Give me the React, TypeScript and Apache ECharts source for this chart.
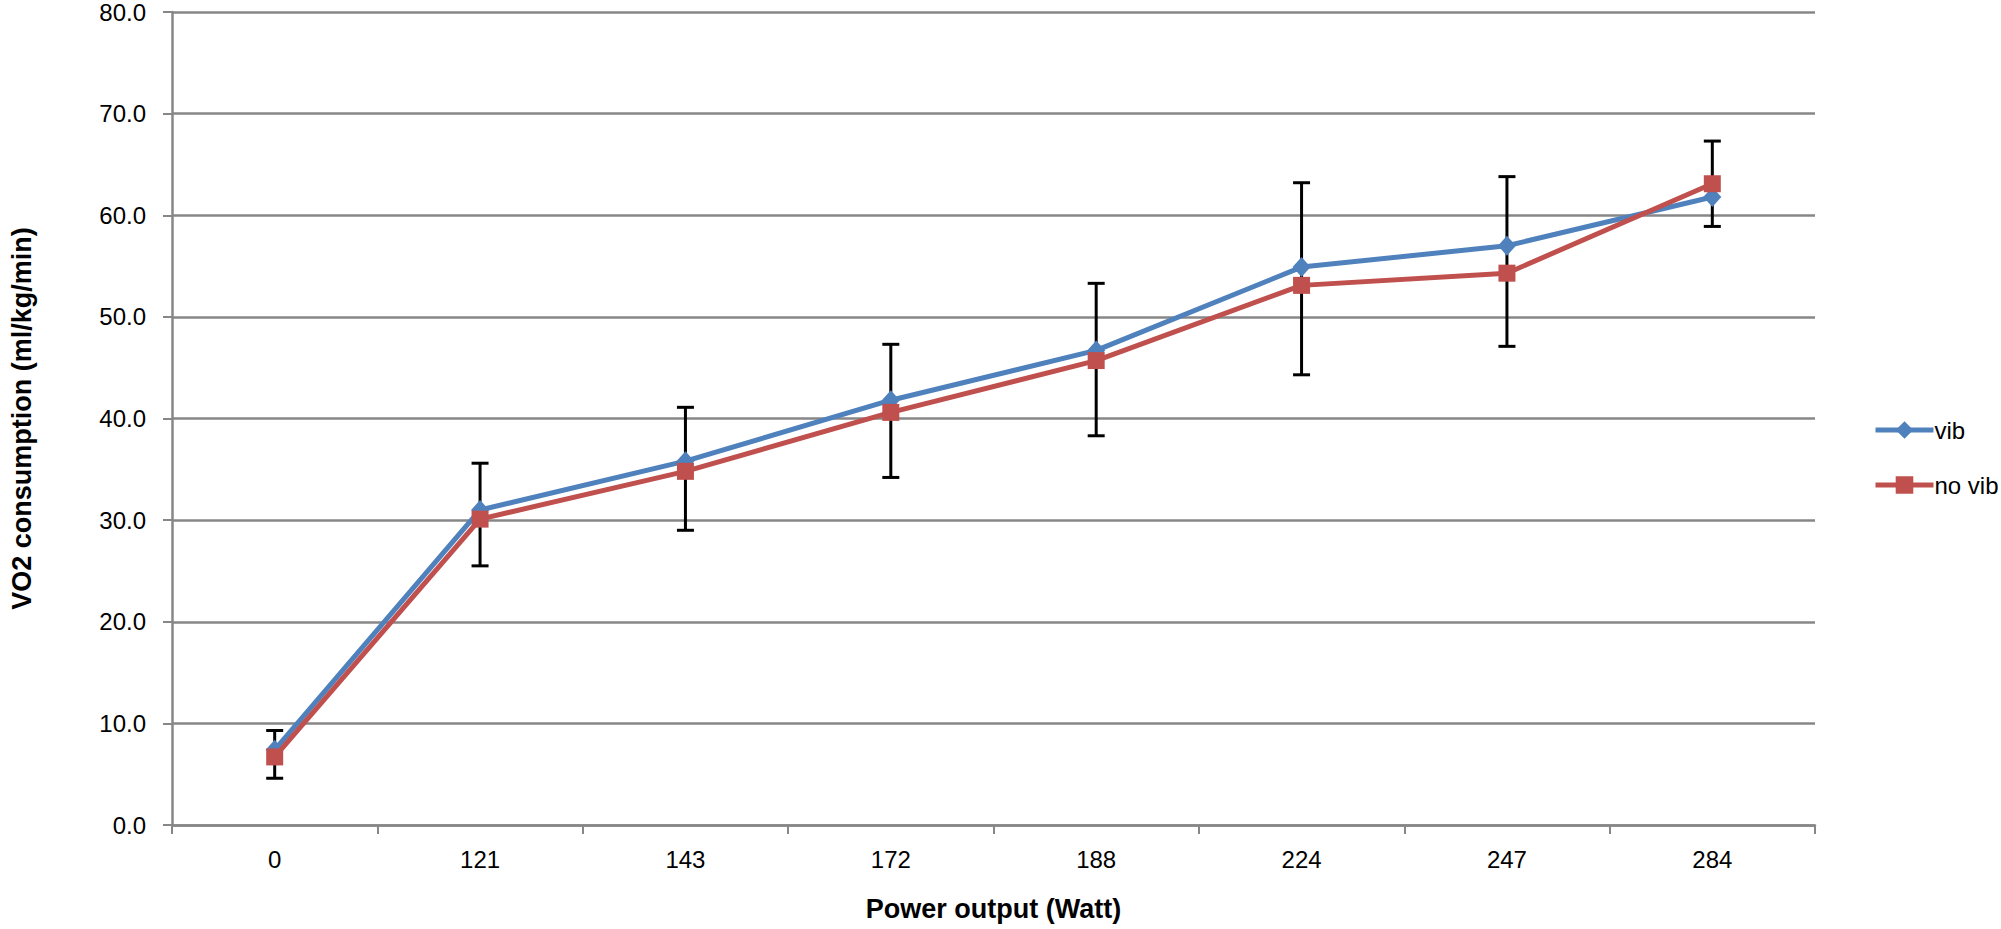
import React, { useEffect, useRef } from "react";
import * as echarts from "echarts";

const categories = ["0", "121", "143", "172", "188", "224", "247", "284"];
const vib = [7.4, 31.0, 35.8, 41.8, 46.7, 54.9, 57.0, 61.8];
const noVib = [6.7, 30.1, 34.8, 40.6, 45.7, 53.1, 54.3, 63.1];
const errLow = [4.6, 25.5, 29.0, 34.2, 38.3, 44.3, 47.1, 58.9];
const errHigh = [9.3, 35.6, 41.1, 47.3, 53.3, 63.2, 63.8, 67.3];
const yTicks = { min: 0, max: 80, interval: 10 };

const FONT = "'Liberation Sans', Arial, sans-serif";
const GRID = "#878787";

export default function App() {
  const ref = useRef<HTMLDivElement>(null);
  useEffect(() => {
    document.body.style.margin = "0";
    const chart = echarts.init(ref.current!, null, { renderer: "svg" });
    const errData = categories.map((_, i) => [i, errLow[i], errHigh[i]]);
    chart.setOption({
      animation: false,
      backgroundColor: "#ffffff",
      textStyle: { fontFamily: FONT },
      grid: { left: 166, right: 186, top: 9, bottom: 104 },
      legend: {
        orient: "vertical",
        left: 1868,
        top: 413,
        itemWidth: 58,
        itemHeight: 22,
        itemGap: 31,
        data: ["vib", "no vib"],
        lineStyle: { width: 5 },
        textStyle: { fontSize: 24, color: "#000", fontFamily: FONT, padding: [0, 0, 0, -4] },
      },
      xAxis: {
        type: "category",
        data: categories,
        name: "Power output (Watt)",
        nameLocation: "middle",
        nameGap: 70,
        nameTextStyle: { fontSize: 27, fontWeight: "bold", color: "#000", fontFamily: FONT },
        axisLine: { lineStyle: { color: GRID, width: 2.5 } },
        axisTick: { show: true, length: 9, lineStyle: { color: GRID, width: 2 } },
        axisLabel: { fontSize: 24, color: "#000", margin: 22, fontFamily: FONT },
        splitLine: { show: false },
      },
      yAxis: {
        type: "value",
        min: yTicks.min,
        max: yTicks.max,
        interval: yTicks.interval,
        name: "VO2 consumption (ml/kg/min)",
        nameLocation: "middle",
        nameRotate: 90,
        nameGap: 137,
        nameTextStyle: { fontSize: 27, fontWeight: "bold", color: "#000", fontFamily: FONT },
        axisLine: { show: true, lineStyle: { color: GRID, width: 2.5 } },
        axisTick: { show: true, length: 9, lineStyle: { color: GRID, width: 2 } },
        axisLabel: {
          fontSize: 24,
          color: "#000",
          margin: 26,
          fontFamily: FONT,
          formatter: (v: number) => v.toFixed(1),
        },
        splitLine: { show: true, lineStyle: { color: GRID, width: 2.5 } },
      },
      series: [
        {
          type: "custom",
          name: "err",
          z: 1,
          data: errData,
          encode: { x: 0, y: [1, 2] },
          renderItem: (params: any, api: any) => {
            const x = api.value(0);
            const lo = api.coord([x, api.value(1)]);
            const hi = api.coord([x, api.value(2)]);
            const hw = 8.5;
            const style = { stroke: "#000", lineWidth: 3 };
            return {
              type: "group",
              children: [
                { type: "line", shape: { x1: lo[0], y1: lo[1], x2: hi[0], y2: hi[1] }, style },
                { type: "line", shape: { x1: lo[0] - hw, y1: lo[1], x2: lo[0] + hw, y2: lo[1] }, style },
                { type: "line", shape: { x1: hi[0] - hw, y1: hi[1], x2: hi[0] + hw, y2: hi[1] }, style },
              ],
            };
          },
        },
        {
          type: "line",
          name: "vib",
          z: 3,
          data: vib,
          symbol: "diamond",
          symbolSize: [18, 20],
          lineStyle: { color: "#4F81BD", width: 5 },
          itemStyle: { color: "#4F81BD" },
          color: "#4F81BD",
        },
        {
          type: "line",
          name: "no vib",
          z: 4,
          data: noVib,
          symbol: "rect",
          symbolSize: 17,
          lineStyle: { color: "#C0504D", width: 5 },
          itemStyle: { color: "#C0504D" },
          color: "#C0504D",
        },
      ],
    });
    return () => chart.dispose();
  }, []);
  return <div ref={ref} style={{ width: 2001, height: 929 }} />;
}
